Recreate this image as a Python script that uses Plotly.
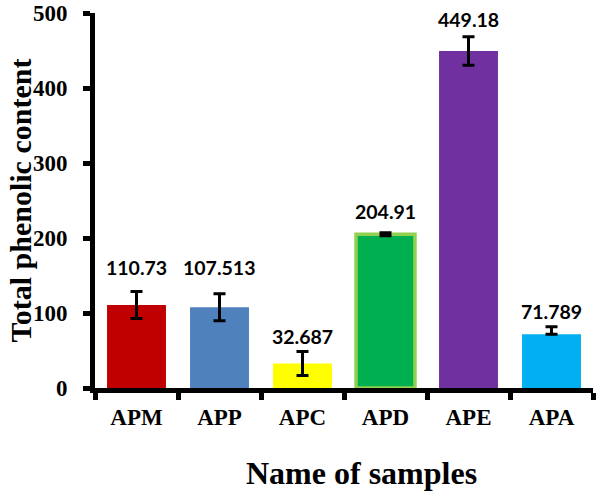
import plotly.graph_objects as go

samples = ["APM", "APP", "APC", "APD", "APE", "APA"]
values = [110.73, 107.513, 32.687, 204.91, 449.18, 71.789]
err_plus = [18, 18, 16, 2, 19, 10]
err_minus = [18, 18, 16, 2, 19, 0]
labels = ["110.73", "107.513", "32.687", "204.91", "449.18", "71.789"]
label_gap = [24, 26, 15, 21, 17, 15]
colors = ["#C00000", "#4F81BD", "#FFFF00", "#00B050", "#7030A0", "#00B0F0"]
borders = ["#C00000", "#4F81BD", "#FFFF00", "#92D050", "#7030A0", "#00B0F0"]
border_w = [0, 0, 0, 3.5, 0, 0]

fig = go.Figure()
fig.add_trace(go.Bar(
    x=samples, y=values,
    marker=dict(color=colors, line=dict(color=borders, width=border_w)),
    error_y=dict(type="data", symmetric=False, array=err_plus, arrayminus=err_minus,
                 color="black", thickness=3, width=6),
    showlegend=False,
))

for s, v, e, t, g in zip(samples, values, err_plus, labels, label_gap):
    fig.add_annotation(x=s, y=v + e, text=t, showarrow=False, yanchor="middle", yshift=g,
                       font=dict(family="Lato", size=19.5, color="black", weight="bold"))

fig.add_annotation(text="Total phenolic content", xref="paper", yref="paper",
                   x=-0.1506, y=0.5, xanchor="center", yanchor="middle",
                   textangle=-90, showarrow=False,
                   font=dict(family="Liberation Serif", size=30, color="black", weight="bold"))
fig.add_annotation(text="Name of samples", xref="paper", yref="paper",
                   x=0.536, y=-0.2267, xanchor="center", yanchor="middle",
                   showarrow=False,
                   font=dict(family="Liberation Serif", size=32, color="black", weight="bold"))

tick_font = dict(family="Liberation Serif", size=23, color="black", weight="bold")

fig.update_layout(
    width=600, height=500,
    margin=dict(l=95, r=7, t=13, b=112),
    plot_bgcolor="white", paper_bgcolor="white",
    bargap=0.29,
    xaxis=dict(
        automargin=False,
        showline=True, linecolor="black", linewidth=5,
        ticks="outside", tickson="boundaries", ticklen=7, tickwidth=5, tickcolor="black",
        ticklabelstandoff=4, ticklabeloverflow="allow",
        tickfont=tick_font,
    ),
    yaxis=dict(
        automargin=False,
        range=[0, 500], tickvals=[0, 100, 200, 300, 400, 500],
        showline=True, linecolor="black", linewidth=5, showgrid=False, zeroline=False,
        ticks="outside", ticklen=7, tickwidth=5, tickcolor="black",
        ticklabelstandoff=11, ticklabeloverflow="allow",
        tickfont=tick_font,
    ),
)

fig.write_html("out.html", config={"displayModeBar": False},
               post_script="document.body.style.margin='0';")
